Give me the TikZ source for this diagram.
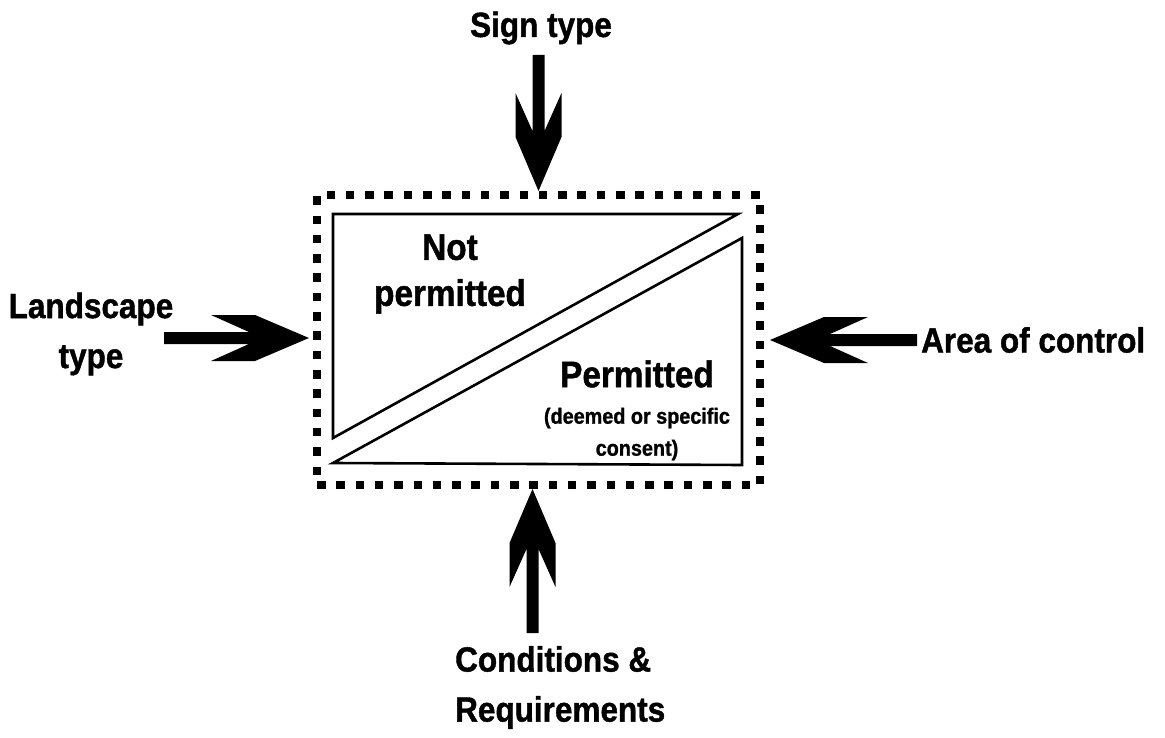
\documentclass[tikz,border=0pt]{standalone}
\usepackage{fontspec}
\setmainfont{Liberation Sans}[FakeStretch=0.9,BoldFeatures={FakeBold=1.2}]
\usetikzlibrary{positioning}

\begin{document}
\begin{tikzpicture}[x=1pt,y=1pt]
      \tikzstyle{label}=[font=\bfseries\fontsize{35}{50}\selectfont,inner sep=0pt,align=center]
      \tikzstyle{inside}=[font=\bfseries\fontsize{37}{46}\selectfont,inner sep=0pt,align=center]
      \tikzstyle{small}=[font=\bfseries\fontsize{22}{32}\selectfont,inner sep=0pt,align=center]
      \tikzstyle{frame}=[draw=black,line width=8pt,dash pattern=on 8.5pt off 10.8pt,minimum width=443pt,minimum height=290pt]
      \tikzstyle{part}=[draw=black,line width=2.6pt,line join=miter]
      \tikzset{pics/fatarrow/.style={code={
        \fill (0,0) -- (-54,23) -- (-98,23) -- (-60,6) -- (-#1,6)
          -- (-#1,-6) -- (-60,-6) -- (-98,-23) -- (-54,-23) -- cycle;}}}

      \useasboundingbox (0,0) rectangle (1165,-738);

      % the control box
      \node[frame](box) at (538.5,-340){};
      \coordinate (nw) at (333,-214);
      \coordinate (ne) at (738,-214);
      \coordinate (sw) at (333,-438);
      \coordinate (lne) at (742,-238);
      \coordinate (lse) at (742,-465);
      \coordinate (lsw) at (333,-463);
      \draw[part] (nw) -- (ne) -- (sw) -- cycle;
      \draw[part] (lne) -- (lse) -- (lsw) -- cycle;

      \node[inside](notp) at (450,-274){Not\\permitted};
      \node[inside](perm) at (637,-374){Permitted};
      \node[small](consent) at (637,-434){(deemed or specific\\consent)};

      % inputs
      \node[label](sign) at (541,-28){Sign type};
      \node[label](land) at (91,-334){Landscape\\type};
      \node[label,anchor=west](area) at (921,-340){Area of control};
      \node[label,align=left,anchor=north west](cond) at (455,-646){Conditions \&\\Requirements};

      \pic[rotate=-90] at (box.north) {fatarrow=136};
      \pic[rotate=90] at ([xshift=-6pt]box.south) {fatarrow=144};
      \pic at ([xshift=-4pt,yshift=2pt]box.west) {fatarrow=145};
      \pic[rotate=180] at ([xshift=6pt]box.east) {fatarrow=147};
    \end{tikzpicture}
\end{document}
